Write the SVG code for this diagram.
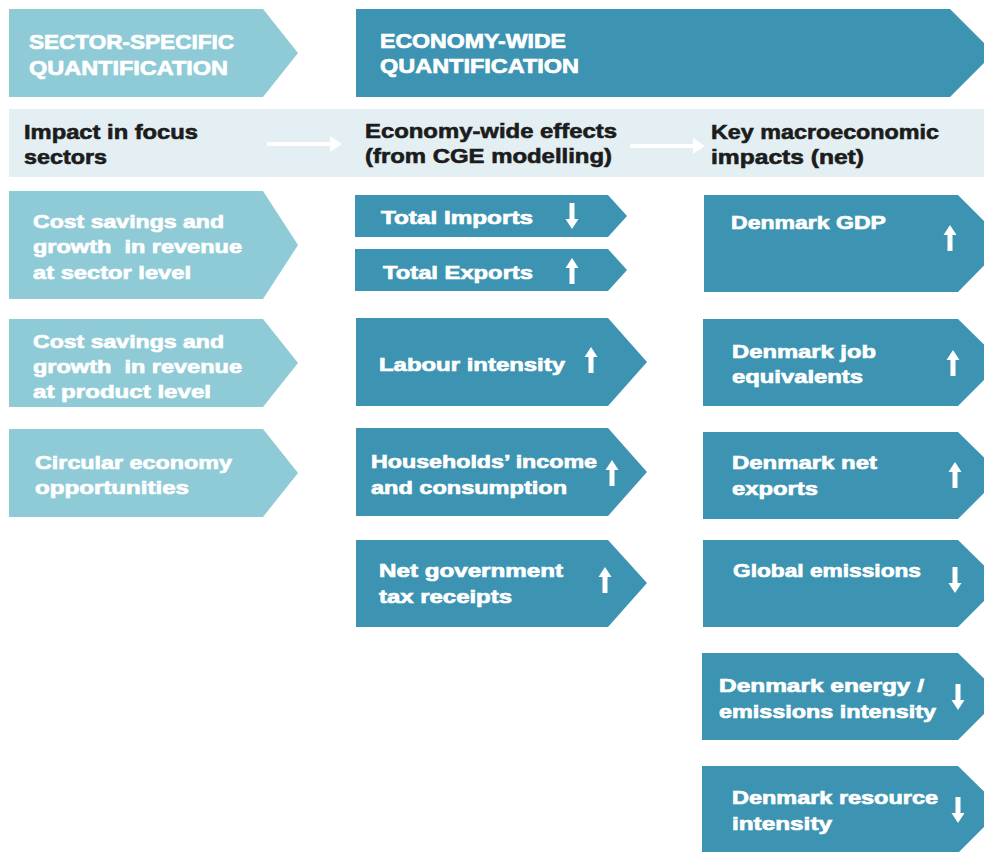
<svg xmlns="http://www.w3.org/2000/svg" width="984" height="852" viewBox="0 0 984 852">
<defs>
<style>
.light{fill:#8fcbd7}
.dark{fill:#3d94b2}
.band{fill:#e3eff3}
.t{font-family:"Liberation Sans",Arial,sans-serif;font-weight:bold;fill:#ffffff;stroke:#ffffff;stroke-width:0.7px;font-size:19px}
.h{font-family:"Liberation Sans",Arial,sans-serif;font-weight:bold;fill:#ffffff;stroke:#ffffff;stroke-width:0.7px;font-size:20px}
.b{font-family:"Liberation Sans",Arial,sans-serif;font-weight:bold;fill:#1c1c1c;stroke:#1c1c1c;stroke-width:0.6px;font-size:20px}
.conn{stroke:#ffffff;stroke-width:4;fill:none}
</style>
<g id="upArrow"><path d="M0,-13 L6.5,-3 L2.5,-3 L2.5,13 L-2.5,13 L-2.5,-3 L-6.5,-3 Z" fill="#ffffff"/></g>
<g id="downArrow"><path d="M0,13 L6.5,3 L2.5,3 L2.5,-13 L-2.5,-13 L-2.5,3 L-6.5,3 Z" fill="#ffffff"/></g>
<marker id="head" markerWidth="4" markerHeight="4" refX="1" refY="2" orient="auto" markerUnits="strokeWidth">
<path d="M0,0 L3,2 L0,4 Z" fill="#ffffff"/>
</marker>
</defs>
<rect width="984" height="852" fill="#ffffff"/>

<g id="header-sector">
<path class="light" d="M9,9 H263 L298,53 L263,97 H9 Z"/>
<text class="h" x="29" y="49" textLength="205" lengthAdjust="spacingAndGlyphs">SECTOR-SPECIFIC</text>
<text class="h" x="29" y="75" textLength="199" lengthAdjust="spacingAndGlyphs">QUANTIFICATION</text>
</g>
<g id="header-economy">
<path class="dark" d="M356,9 H950 L994,53 L950,97 H356 Z"/>
<text class="h" x="380" y="48" textLength="186" lengthAdjust="spacingAndGlyphs">ECONOMY-WIDE</text>
<text class="h" x="380" y="73" textLength="199" lengthAdjust="spacingAndGlyphs">QUANTIFICATION</text>
</g>

<g id="band">
<rect class="band" x="9" y="109" width="975" height="68"/>
</g>
<g id="label-focus">
<text class="b" x="24" y="139" textLength="174" lengthAdjust="spacingAndGlyphs">Impact in focus</text>
<text class="b" x="24" y="164" textLength="83" lengthAdjust="spacingAndGlyphs">sectors</text>
</g>
<g id="label-economy">
<text class="b" x="365" y="138" textLength="252" lengthAdjust="spacingAndGlyphs">Economy-wide effects</text>
<text class="b" x="365" y="163" textLength="247" lengthAdjust="spacingAndGlyphs">(from CGE modelling)</text>
</g>
<g id="label-key">
<text class="b" x="711" y="139" textLength="228" lengthAdjust="spacingAndGlyphs">Key macroeconomic</text>
<text class="b" x="711" y="164" textLength="153" lengthAdjust="spacingAndGlyphs">impacts (net)</text>
</g>

<g id="connectors">
<line class="conn" x1="267" y1="144" x2="334" y2="144" marker-end="url(#head)"/>
<line class="conn" x1="630" y1="146" x2="697" y2="146" marker-end="url(#head)"/>
</g>

<g id="sector-level">
<path class="light" d="M9,191 H263 L298,245 L263,299 H9 Z"/>
<text class="t" x="33" y="228" textLength="191" lengthAdjust="spacingAndGlyphs">Cost savings and</text>
<text class="t" x="33" y="253" textLength="209" lengthAdjust="spacingAndGlyphs" xml:space="preserve">growth  in revenue</text>
<text class="t" x="33" y="279" textLength="158" lengthAdjust="spacingAndGlyphs">at sector level</text>
</g>
<g id="product-level">
<path class="light" d="M9,319 H263 L298,363 L263,407 H9 Z"/>
<text class="t" x="33" y="348" textLength="191" lengthAdjust="spacingAndGlyphs">Cost savings and</text>
<text class="t" x="33" y="373" textLength="209" lengthAdjust="spacingAndGlyphs" xml:space="preserve">growth  in revenue</text>
<text class="t" x="33" y="398" textLength="178" lengthAdjust="spacingAndGlyphs">at product level</text>
</g>
<g id="circular">
<path class="light" d="M9,429 H263 L298,473 L263,517 H9 Z"/>
<text class="t" x="35" y="469" textLength="197" lengthAdjust="spacingAndGlyphs">Circular economy</text>
<text class="t" x="35" y="494" textLength="154" lengthAdjust="spacingAndGlyphs">opportunities</text>
</g>

<g id="total-imports">
<path class="dark" d="M355,195 H608 L627,216 L608,237 H355 Z"/>
<text class="t" x="381" y="224" textLength="152" lengthAdjust="spacingAndGlyphs">Total Imports</text>
<use href="#downArrow" x="572" y="216"/>
</g>
<g id="total-exports">
<path class="dark" d="M355,249 H608 L627,270 L608,291 H355 Z"/>
<text class="t" x="383" y="279" textLength="150" lengthAdjust="spacingAndGlyphs">Total Exports</text>
<use href="#upArrow" x="572" y="271"/>
</g>
<g id="labour">
<path class="dark" d="M356,318 H608 L647,362 L608,406 H356 Z"/>
<text class="t" x="379" y="371" textLength="186" lengthAdjust="spacingAndGlyphs">Labour intensity</text>
<use href="#upArrow" x="591" y="360"/>
</g>
<g id="households">
<path class="dark" d="M356,428 H608 L647,472 L608,516 H356 Z"/>
<text class="t" x="371" y="468" textLength="226" lengthAdjust="spacingAndGlyphs">Households’ income</text>
<text class="t" x="371" y="494" textLength="196" lengthAdjust="spacingAndGlyphs">and consumption</text>
<use href="#upArrow" x="612" y="473"/>
</g>
<g id="government">
<path class="dark" d="M356,540 H608 L647,583 L608,627 H356 Z"/>
<text class="t" x="379" y="577" textLength="184" lengthAdjust="spacingAndGlyphs">Net government</text>
<text class="t" x="379" y="603" textLength="133" lengthAdjust="spacingAndGlyphs">tax receipts</text>
<use href="#upArrow" x="605" y="580"/>
</g>

<g id="gdp">
<path class="dark" d="M704,195 H958 L1006,243 L958,292 H704 Z"/>
<text class="t" x="731" y="229" textLength="155" lengthAdjust="spacingAndGlyphs">Denmark GDP</text>
<use href="#upArrow" x="950" y="238"/>
</g>
<g id="jobs">
<path class="dark" d="M703,319 H958 L1002,362 L958,406 H703 Z"/>
<text class="t" x="732" y="358" textLength="144" lengthAdjust="spacingAndGlyphs">Denmark job</text>
<text class="t" x="732" y="383" textLength="131" lengthAdjust="spacingAndGlyphs">equivalents</text>
<use href="#upArrow" x="953" y="363"/>
</g>
<g id="net-exports">
<path class="dark" d="M703,432 H958 L1002,475 L958,519 H703 Z"/>
<text class="t" x="732" y="469" textLength="145" lengthAdjust="spacingAndGlyphs">Denmark net</text>
<text class="t" x="732" y="495" textLength="86" lengthAdjust="spacingAndGlyphs">exports</text>
<use href="#upArrow" x="955" y="475"/>
</g>
<g id="global-emissions">
<path class="dark" d="M703,540 H958 L1002,583 L958,627 H703 Z"/>
<text class="t" x="733" y="577" textLength="188" lengthAdjust="spacingAndGlyphs">Global emissions</text>
<use href="#downArrow" x="955" y="580"/>
</g>
<g id="energy-intensity">
<path class="dark" d="M702,653 H958 L1002,696 L958,740 H702 Z"/>
<text class="t" x="719" y="692" textLength="205" lengthAdjust="spacingAndGlyphs">Denmark energy /</text>
<text class="t" x="719" y="718" textLength="217" lengthAdjust="spacingAndGlyphs">emissions intensity</text>
<use href="#downArrow" x="958" y="697"/>
</g>
<g id="resource-intensity">
<path class="dark" d="M702,766 H958 L1002,809 L958,853 H702 Z"/>
<text class="t" x="732" y="804" textLength="206" lengthAdjust="spacingAndGlyphs">Denmark resource</text>
<text class="t" x="732" y="830" textLength="100" lengthAdjust="spacingAndGlyphs">intensity</text>
<use href="#downArrow" x="958" y="810"/>
</g>
</svg>
